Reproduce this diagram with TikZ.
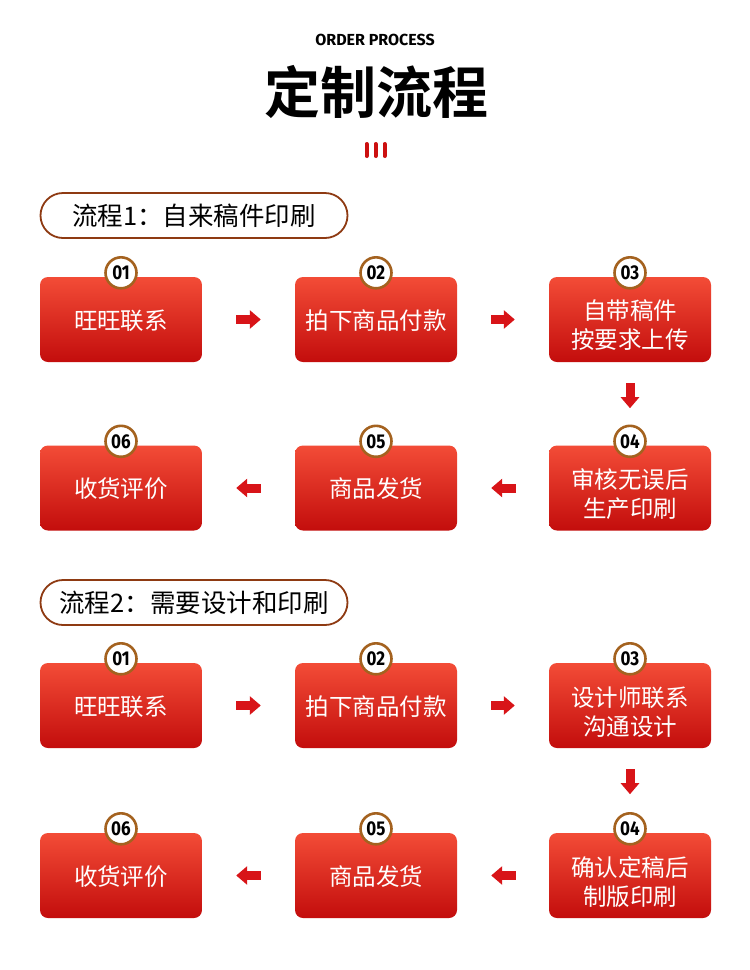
\documentclass[tikz,border=0pt]{standalone}
\usepackage{fontspec}
\setmainfont{Fira Sans}
\newfontfamily\cjk{Noto Sans CJK SC}[BoldFont={* Bold}]
\usetikzlibrary{arrows.meta,calc,shapes.misc}
\definecolor{boxtop}{HTML}{F34C37}
\definecolor{boxbot}{HTML}{C30D0C}
\definecolor{arrowred}{HTML}{D81418}
\definecolor{ringc}{HTML}{A4621F}
\definecolor{pillc}{HTML}{8E3A12}
\definecolor{barred}{HTML}{CC1010}
\begin{document}
\begin{tikzpicture}[x=1pt,y=-1pt,
  stepbox/.style={rectangle, rounded corners=8pt, minimum width=162pt, minimum height=85pt,
    top color=boxtop, bottom color=boxbot, draw=none, inner sep=0pt},
  steptext/.style={text=white, font=\cjk\fontsize{23.5}{29}\selectfont, align=center, inner sep=0pt},
  badge/.style={circle, minimum size=31pt, inner sep=0pt, fill=white, draw=ringc, line width=2.6pt,
    font=\bfseries\fontsize{20}{20}\selectfont},
  pill/.style={rounded rectangle, minimum width=307pt, minimum height=45pt, inner sep=0pt,
    draw=pillc, line width=1.8pt, fill=white, font=\cjk\fontsize{25.5}{28}\selectfont},
  blockarrow/.style={draw=arrowred, line width=9pt, -{Triangle[length=11pt,width=18pt]}},
  redbar/.style={draw=barred, line width=4pt, line cap=round}
]
\useasboundingbox[fill=white] (0,0) rectangle (750,970);

% header
\node[font=\bfseries\fontsize{16}{16}\selectfont] (sub) at (375,40) {ORDER PROCESS};
\node[font=\cjk\bfseries\fontsize{56}{60}\selectfont] (title) at (376,92) {定制流程};
\draw[redbar] (366.5,144) -- (366.5,156);
\draw[redbar] (375.5,144) -- (375.5,156);
\draw[redbar] (384.5,144) -- (384.5,156);

% ---------- process 1 ----------
\node[pill] (p1) at (194,215.5) {流程1：自来稿件印刷};

\node[stepbox] (a1) at (121,319.5) {};
\node[stepbox] (a2) at (376,319.5) {};
\node[stepbox] (a3) at (630,319.5) {};
\node[stepbox] (a4) at (630,488) {};
\node[stepbox] (a5) at (376,488) {};
\node[stepbox] (a6) at (121,488) {};

\node[steptext] (ta1) at ($(a1)+(0,1)$) {旺旺联系};
\node[steptext] (ta2) at ($(a2)+(0,1)$) {拍下商品付款};
\node[steptext] (ta3) at ($(a3)+(0,6)$) {自带稿件\\按要求上传};
\node[steptext] (ta4) at ($(a4)+(0,6)$) {审核无误后\\生产印刷};
\node[steptext] (ta5) at ($(a5)+(0,1)$) {商品发货};
\node[steptext] (ta6) at ($(a6)+(0,1)$) {收货评价};

\foreach \n/\t in {a1/01,a2/02,a3/03,a4/04,a5/05,a6/06}
  \node[badge] (b\n) at ($(\n.north)+(0,-4)$) {\scalebox{0.85}[1]{\t}};

\draw[blockarrow] ($(a1.east)+(34,0)$) -- ($(a2.west)+(-34,0)$);
\draw[blockarrow] ($(a2.east)+(34,0)$) -- ($(a3.west)+(-34,0)$);
\draw[blockarrow] ($(a3.south)+(0,21)$) -- ($(a3.south)+(0,46)$);
\draw[blockarrow] ($(a4.west)+(-33,0)$) -- ($(a5.east)+(34,0)$);
\draw[blockarrow] ($(a5.west)+(-34,0)$) -- ($(a6.east)+(34,0)$);

% ---------- process 2 ----------
\node[pill] (p2) at (194,602.5) {流程2：需要设计和印刷};

\node[stepbox] (c1) at (121,705.5) {};
\node[stepbox] (c2) at (376,705.5) {};
\node[stepbox] (c3) at (630,705.5) {};
\node[stepbox] (c4) at (630,875.5) {};
\node[stepbox] (c5) at (376,875.5) {};
\node[stepbox] (c6) at (121,875.5) {};

\node[steptext] (tc1) at ($(c1)+(0,1)$) {旺旺联系};
\node[steptext] (tc2) at ($(c2)+(0,1)$) {拍下商品付款};
\node[steptext] (tc3) at ($(c3)+(0,7)$) {设计师联系\\沟通设计};
\node[steptext] (tc4) at ($(c4)+(0,7)$) {确认定稿后\\制版印刷};
\node[steptext] (tc5) at ($(c5)+(0,1)$) {商品发货};
\node[steptext] (tc6) at ($(c6)+(0,1)$) {收货评价};

\foreach \n/\t in {c1/01,c2/02,c3/03,c4/04,c5/05,c6/06}
  \node[badge] (b\n) at ($(\n.north)+(0,-4)$) {\scalebox{0.85}[1]{\t}};

\draw[blockarrow] ($(c1.east)+(34,0)$) -- ($(c2.west)+(-34,0)$);
\draw[blockarrow] ($(c2.east)+(34,0)$) -- ($(c3.west)+(-34,0)$);
\draw[blockarrow] ($(c3.south)+(0,21)$) -- ($(c3.south)+(0,46)$);
\draw[blockarrow] ($(c4.west)+(-33,0)$) -- ($(c5.east)+(34,0)$);
\draw[blockarrow] ($(c5.west)+(-34,0)$) -- ($(c6.east)+(34,0)$);
\end{tikzpicture}
\end{document}
